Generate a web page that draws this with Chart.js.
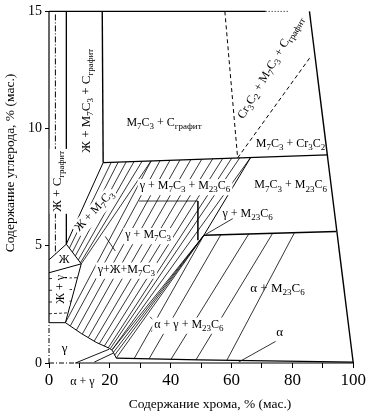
<!DOCTYPE html>
<html lang="ru">
<head>
    <meta charset="UTF-8">
    <title>Fe-Cr-C</title>
    <script src="https://cdn.jsdelivr.net/npm/chart.js"></script>
    <style>
        body { margin: 0; background: #fff; }
        #wrap { width: 368px; height: 413px; }
    </style>
</head>
<body>
<div id="wrap"><canvas id="diagram" width="368" height="413"></canvas></div>
<script>
    // axis ticks
    const xTicks = [0, 20, 40, 60, 80, 100];
    const yTicks = [0, 5, 10, 15];

    // frame
    const frameLeft = [[0, 1.72], [0, 15]];
    const frameLeftDash = [[0, 0], [0, 1.72]];
    const frameTopSolid = [[0, 15], [71.2, 15]];
    const frameTopDotted = [[71.2, 15], [79.1, 15]];
    const frameBottomDash = [[0, 0], [8.7, 0]];
    const frameBottom = [[8.7, 0], [100, 0]];

    // phase boundaries (Cr %, C %)
    const rightBoundary = [[85.6, 15], [100, 0]];
    const graphiteEdge = [[17.5, 15], [17.8, 8.55]];
    const m7c3Line = [[17.8, 8.55], [91.5, 8.88]];
    const m23c6Line = [[50.9, 5.45], [94.4, 5.61]];
    const m7c3m23c6Edge = [[66.28, 8.77], [50.9, 5.45]];
    const cr3c2Dashed = [[[57.8, 15], [62.0, 8.75]], [[62.0, 8.75], [85.9, 13.05]]];
    const liquidCarbonEdge = [[5.7, 15], [5.7, 5.07]];
    const liquidCarbonDashDot = [[2.1, 14.87], [2.1, 4.65]];
    const liquidRegion = [[0, 4.40], [5.7, 5.07], [10.6, 4.23], [0, 3.85]];
    const liquidM7c3Edge = [[5.7, 5.07], [17.8, 8.55]];
    const liquidGammaEdge = [[10.6, 4.23], [5.4, 1.72]];
    const gammaBoundary = [[0, 1.72], [5.4, 1.72], [10.6, 1.26], [15.5, 0.88], [19.8, 0.63], [20.8, 0.54], [22.1, 0.21]];
    const alphaBoundary = [[22.1, 0.21], [49.3, 0.13], [100, 0.04]];
    const alphaGammaLines = [[[8.7, 0], [19.8, 0.59]], [[14.9, 0.04], [21.1, 0.42]]];

    // tie lines
    const liquidGammaTies = [
        [[0, 3.60], [9.4, 3.64]], [[0, 3.10], [8.4, 3.14]],
        [[0, 2.60], [7.4, 2.64]], [[0, 2.10], [6.3, 2.14]]
    ];
    const liquidM7c3Ties = [
        [[6.71, 4.90], [20.46, 8.56]], [[7.69, 4.73], [22.75, 8.57]],
        [[8.67, 4.57], [25.37, 8.58]], [[9.66, 4.40], [27.99, 8.60]],
        [[10.31, 4.27], [30.61, 8.61]], [[10.6, 4.23], [33.55, 8.62]]
    ];
    const gammaM7c3Ties = [
        [[5.4, 1.72], [33.55, 8.62]], [[7.04, 1.59], [36.50, 8.63]],
        [[9.00, 1.40], [39.77, 8.65]], [[10.97, 1.24], [43.04, 8.66]],
        [[12.93, 1.09], [46.64, 8.68]], [[14.89, 0.94], [50.25, 8.70]],
        [[16.53, 0.82], [53.85, 8.72]], [[18.17, 0.72], [57.12, 8.73]],
        [[19.48, 0.65], [60.07, 8.74]], [[20.13, 0.61], [62.68, 8.75]],
        [[20.79, 0.57], [66.28, 8.77]]
    ];
    const gammaM23c6Ties = [
        [[20.79, 0.57], [50.9, 5.45]], [[21.2, 0.46], [50.9, 5.45]],
        [[21.6, 0.34], [50.9, 5.45]], [[22.1, 0.21], [50.9, 5.45]],
        [[28.0, 0.19], [50.9, 5.45]]
    ];
    const alphaM23c6Ties = [
        [[32.9, 0.18], [56.46, 5.47]], [[40.1, 0.16], [65.63, 5.50]],
        [[48.28, 0.13], [73.49, 5.53]], [[58.43, 0.11], [80.69, 5.56]]
    ];
    const leaderLines = [
        [[74.47, 0.92], [62.36, 0.04]],
        [[60.39, 6.16], [51.55, 5.49]],
        [[29.62, 6.91], [48.94, 6.91], [48.94, 5.24]],
        [[18.49, 5.40], [21.77, 4.78]],
        [[33.22, 1.97], [35.84, 1.63], [33.55, 1.34]],
        [[36.17, 1.30], [53.19, 1.30]]
    ];

    // region labels: "_x" or "_{..}" = subscript
    const labels = [
        { text: 'M_7C_3 + C_{графит}', x: 37.8, y: 10.26, rot: 0, size: 12 },
        { text: 'Cr_3C_2 + M_7C_3 + C_{графит}', x: 72.8, y: 12.61, rot: -59.5, size: 12 },
        { text: 'M_7C_3 + Cr_3C_2', x: 79.4, y: 9.34, rot: 0, size: 12 },
        { text: 'M_7C_3 + M_{23}C_6', x: 79.4, y: 7.58, rot: 0, size: 12 },
        { text: 'γ + M_{23}C_6', x: 65.3, y: 6.37, rot: 0, size: 12 },
        { text: 'α + M_{23}C_6', x: 75.1, y: 3.18, rot: 0, size: 13 },
        { text: 'α', x: 75.8, y: 1.30, rot: 0, size: 13 },
        { text: 'α + γ + M_{23}C_6', x: 46.0, y: 1.63, rot: 0, size: 12, bg: true },
        { text: 'γ + M_7C_3 + M_{23}C_6', x: 44.7, y: 7.54, rot: 0, size: 12, bg: true },
        { text: 'γ + M_7C_3', x: 32.6, y: 5.45, rot: 0, size: 12, bg: true },
        { text: 'γ+Ж+M_7C_3', x: 25.4, y: 3.98, rot: 0, size: 12, bg: true },
        { text: 'Ж', x: 5.0, y: 4.40, rot: 0, size: 12 },
        { text: 'Ж + γ', x: 3.8, y: 3.14, rot: -90, size: 12, bg: true },
        { text: 'γ', x: 5.1, y: 0.63, rot: 0, size: 13 },
        { text: 'α + γ', x: 11.0, y: -0.80, rot: 0, size: 12 },
        { text: 'Ж + C_{графит}', x: 2.8, y: 7.75, rot: -90, size: 13, bg: true },
        { text: 'Ж + M_7C_3 + C_{графит}', x: 12.3, y: 11.19, rot: -90, size: 13 },
        { text: 'Ж + M_7C_3', x: 14.9, y: 6.49, rot: -47, size: 12, bg: true }
    ];

    const SERIF = "'Liberation Serif', 'DejaVu Serif', serif";
    const datasets = [];

    function addLine(points, width, dash) {
        datasets.push({
            data: points.map(p => ({ x: p[0], y: p[1] })),
            showLine: true,
            borderColor: '#000',
            borderWidth: width,
            borderDash: dash || [],
            pointRadius: 0,
            fill: false,
            clip: false
        });
    }

    addLine(frameLeft, 1.2);
    addLine(frameLeftDash, 1, [5, 2, 1, 2]);
    addLine(frameTopSolid, 1.4);
    addLine(frameTopDotted, 1, [1, 2]);
    addLine(frameBottomDash, 1, [5, 2, 1, 2]);
    addLine(frameBottom, 1.2);
    addLine(rightBoundary, 1.4);
    addLine(graphiteEdge, 1.4);
    addLine(m7c3Line, 1.3);
    addLine(m23c6Line, 1.3);
    addLine(m7c3m23c6Edge, 1);
    cr3c2Dashed.forEach(l => addLine(l, 1, [4, 3]));
    addLine(liquidCarbonEdge, 1.3);
    addLine(liquidCarbonDashDot, 1, [6, 2, 1, 2]);
    addLine(liquidRegion, 1);
    addLine(liquidM7c3Edge, 1);
    addLine(liquidGammaEdge, 1);
    addLine(gammaBoundary, 1);
    addLine(alphaBoundary, 1.2);
    alphaGammaLines.forEach(l => addLine(l, 0.9));
    liquidGammaTies.forEach(l => addLine(l, 0.8, [3, 2]));
    liquidM7c3Ties.forEach(l => addLine(l, 0.8));
    gammaM7c3Ties.forEach(l => addLine(l, 0.8));
    gammaM23c6Ties.forEach(l => addLine(l, 0.8));
    alphaM23c6Ties.forEach(l => addLine(l, 0.8));
    leaderLines.forEach(l => addLine(l, 0.8));

    function parseRuns(s) {
        const runs = [];
        let buf = '';
        let i = 0;
        while (i < s.length) {
            if (s[i] === '_') {
                if (buf) { runs.push({ t: buf, sub: false }); buf = ''; }
                if (s[i + 1] === '{') {
                    const j = s.indexOf('}', i);
                    runs.push({ t: s.slice(i + 2, j), sub: true });
                    i = j + 1;
                } else {
                    runs.push({ t: s[i + 1], sub: true });
                    i += 2;
                }
            } else {
                buf += s[i];
                i++;
            }
        }
        if (buf) runs.push({ t: buf, sub: false });
        return runs;
    }

    function drawRich(ctx, text, px, py, rot, size, bg) {
        const runs = parseRuns(text);
        const subSize = Math.round(size * 0.72);
        let total = 0;
        runs.forEach(r => {
            ctx.font = (r.sub ? subSize : size) + 'px ' + SERIF;
            r.w = ctx.measureText(r.t).width;
            total += r.w;
        });
        ctx.save();
        ctx.translate(px, py);
        ctx.rotate(rot * Math.PI / 180);
        if (bg) {
            ctx.fillStyle = '#fff';
            ctx.fillRect(-total / 2 - 2, -size * 0.6, total + 4, size * 1.35);
        }
        ctx.fillStyle = '#000';
        ctx.textBaseline = 'middle';
        ctx.textAlign = 'left';
        let cx = -total / 2;
        runs.forEach(r => {
            ctx.font = (r.sub ? subSize : size) + 'px ' + SERIF;
            ctx.fillText(r.t, cx, r.sub ? size * 0.32 : 0);
            cx += r.w;
        });
        ctx.restore();
    }

    const labelPlugin = {
        id: 'phaseLabels',
        afterDraw(chart) {
            const ctx = chart.ctx;
            const xs = chart.scales.x;
            const ys = chart.scales.y;
            labels.forEach(l => {
                drawRich(ctx, l.text, xs.getPixelForValue(l.x), ys.getPixelForValue(l.y), l.rot, l.size, l.bg);
            });
            // axis titles
            ctx.save();
            ctx.fillStyle = '#000';
            ctx.font = '13.5px ' + SERIF;
            ctx.textAlign = 'center';
            ctx.textBaseline = 'middle';
            ctx.fillText('Содержание хрома, % (мас.)', 210, 404);
            ctx.translate(10, 163);
            ctx.rotate(-Math.PI / 2);
            ctx.fillText('Содержание углерода, % (мас.)', 0, 0);
            ctx.restore();
        }
    };

    new Chart(document.getElementById('diagram'), {
        type: 'scatter',
        data: { datasets: datasets },
        options: {
            responsive: false,
            animation: false,
            events: [],
            layout: { padding: { left: 0, right: 13, top: 5, bottom: 0 } },
            plugins: { legend: { display: false }, tooltip: { enabled: false } },
            scales: {
                x: {
                    type: 'linear', min: 0, max: 100,
                    afterFit: s => { s.height = 50; },
                    border: { display: false },
                    grid: { drawOnChartArea: false, drawTicks: true, tickLength: 5, color: '#000' },
                    ticks: {
                        stepSize: 10, color: '#000', padding: 2,
                        maxRotation: 0, minRotation: 0, autoSkip: false,
                        font: { family: SERIF, size: 17 },
                        callback: v => xTicks.includes(v) ? String(v) : ''
                    }
                },
                y: {
                    type: 'linear', min: 0, max: 15,
                    afterFit: s => { s.width = 49; },
                    border: { display: false },
                    grid: { drawOnChartArea: false, drawTicks: true, tickLength: 4, color: '#000' },
                    ticks: {
                        stepSize: 5, color: '#000', padding: 3,
                        font: { family: SERIF, size: 14 },
                        callback: v => yTicks.includes(v) ? String(v) : ''
                    }
                }
            }
        },
        plugins: [labelPlugin]
    });
</script>
</body>
</html>
